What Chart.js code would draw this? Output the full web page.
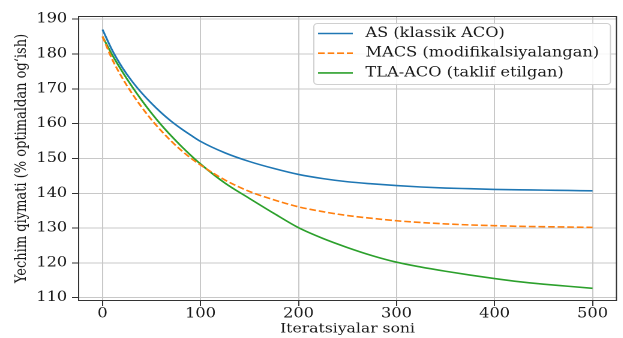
<!DOCTYPE html>
<html>
<head>
<meta charset="utf-8">
<script src="https://cdn.jsdelivr.net/npm/chart.js@4/dist/chart.umd.min.js"></script>
<style>
  html, body { margin: 0; padding: 0; background: #fff; }
  #outer { width: 623px; height: 338px; overflow: hidden; position: relative; }
  /* the reference figure is stretched sideways, so the chart is drawn narrower and widened */
  #wrap { width: 519.2px; height: 338px; position: absolute; left: 0; top: 0;
          transform: scaleX(1.2); transform-origin: 0 0; }
</style>
</head>
<body>
<div id="outer"><div id="wrap"><canvas id="chart"></canvas></div></div>
<script>
// iterations (x) and solution values (% of optimum)
const iterations = [0, 10, 20, 30, 40, 50, 60, 70, 80, 90, 100, 125, 150, 175, 200, 225, 250, 275, 300, 325, 350, 375, 400, 425, 450, 475, 500];
const asValues = [187.0, 181.0, 176.2, 172.2, 168.8, 165.8, 163.1, 160.7, 158.6, 156.7, 154.9, 151.6, 149.1, 147.1, 145.4, 144.2, 143.3, 142.7, 142.2, 141.8, 141.5, 141.3, 141.1, 141.0, 140.9, 140.8, 140.7];
const macsValues = [185.0, 178.4, 173.2, 168.7, 164.7, 161.1, 157.9, 155.0, 152.4, 150.1, 148.1, 143.8, 140.5, 138.1, 136.1, 134.7, 133.6, 132.8, 132.1, 131.6, 131.2, 130.9, 130.7, 130.5, 130.4, 130.3, 130.2];
const tlaValues = [185.0, 179.7, 175.0, 170.7, 166.7, 163.0, 159.6, 156.5, 153.6, 150.9, 148.4, 142.9, 138.5, 134.2, 130.1, 127.0, 124.4, 122.1, 120.2, 118.8, 117.6, 116.5, 115.5, 114.6, 113.9, 113.3, 112.7];

const seriesLabels = ['AS (klassik ACO)', 'MACS (modifikalsiyalangan)', 'TLA-ACO (taklif etilgan)'];
const xTicks = [0, 100, 200, 300, 400, 500];
const yTicks = [110, 120, 130, 140, 150, 160, 170, 180, 190];

const FONT = 'DejaVu Serif';
const INK = '#1a1a1a';

function toPoints(vals) {
  return iterations.map((x, i) => ({x: x, y: vals[i]}));
}

// full box round the plot, like matplotlib spines
const framePlugin = {
  id: 'frame',
  afterDatasetsDraw(chart) {
    const a = chart.chartArea;
    const ctx = chart.ctx;
    ctx.save();
    ctx.strokeStyle = '#333333';
    ctx.lineWidth = 1;
    ctx.strokeRect(a.left + 0.5, a.top + 0.5, a.right - a.left - 1, a.bottom - a.top - 1);
    ctx.restore();
  },
};

// legend box in the upper right corner of the plot
const legendPlugin = {
  id: 'boxLegend',
  afterDatasetsDraw(chart) {
    const ctx = chart.ctx;
    const a = chart.chartArea;
    const x0 = 261, y0 = 23, w = a.right - 6 - x0, h = 61;
    ctx.save();
    ctx.fillStyle = 'rgba(255,255,255,0.85)';
    ctx.strokeStyle = '#d0d0d0';
    ctx.lineWidth = 1;
    ctx.beginPath();
    ctx.roundRect(x0 + 0.5, y0 + 0.5, w, h, 3);
    ctx.fill();
    ctx.stroke();
    ctx.font = '13.5px "' + FONT + '"';
    ctx.textBaseline = 'middle';
    chart.data.datasets.forEach((ds, i) => {
      const yy = y0 + 10.5 + i * 19.7;
      ctx.strokeStyle = ds.borderColor;
      ctx.lineWidth = 1.6;
      ctx.setLineDash(ds.borderDash || []);
      ctx.beginPath();
      ctx.moveTo(265, yy);
      ctx.lineTo(294, yy);
      ctx.stroke();
      ctx.setLineDash([]);
      ctx.fillStyle = INK;
      ctx.fillText(ds.label, 304.5, yy);
    });
    ctx.restore();
  },
};

new Chart(document.getElementById('chart'), {
  type: 'line',
  data: {
    datasets: [{
      label: seriesLabels[0],
      data: toPoints(asValues),
      borderColor: '#1f77b4',
      borderWidth: 1.6,
    }, {
      label: seriesLabels[1],
      data: toPoints(macsValues),
      borderColor: '#ff7f0e',
      borderWidth: 1.6,
      borderDash: [5.6, 2.4],
    }, {
      label: seriesLabels[2],
      data: toPoints(tlaValues),
      borderColor: '#2ca02c',
      borderWidth: 1.6,
    }],
  },
  options: {
    responsive: true,
    maintainAspectRatio: false,
    animation: false,
    devicePixelRatio: 2,
    layout: {padding: {top: 16, right: 5, left: 0, bottom: 0}},
    elements: {
      point: {radius: 0},
      line: {cubicInterpolationMode: 'monotone', fill: false},
    },
    plugins: {
      legend: {display: false},
      tooltip: {enabled: false},
    },
    scales: {
      x: {
        type: 'linear',
        min: -25,
        max: 525,
        afterBuildTicks: (scale) => {
          scale.ticks = xTicks.map((v) => ({value: v}));
        },
        afterFit: (scale) => {
          scale.height = 37;
        },
        grid: {color: '#c8c8c8', lineWidth: 1, tickLength: 5, tickColor: '#333333'},
        border: {display: false},
        ticks: {
          color: INK,
          font: {family: FONT, size: 13.5},
          padding: 0,
          maxRotation: 0,
        },
        title: {
          display: true,
          text: 'Iteratsiyalar soni',
          color: INK,
          font: {family: FONT, size: 13},
          padding: {top: 0, bottom: 1},
        },
      },
      y: {
        type: 'linear',
        min: 109.06,
        max: 190.9,
        afterBuildTicks: (scale) => {
          scale.ticks = yTicks.map((v) => ({value: v}));
        },
        afterFit: (scale) => {
          scale.width = 65;
        },
        grid: {color: '#c8c8c8', lineWidth: 1, tickLength: 5, tickColor: '#333333'},
        border: {display: false},
        ticks: {
          color: INK,
          font: {family: FONT, size: 13.5},
          padding: 4,
        },
        title: {
          display: true,
          text: 'Yechim qiymati (% optimaldan og‘ish)',
          color: INK,
          font: {family: FONT, size: 13},
          padding: {top: 10.5, bottom: 0},
        },
      },
    },
  },
  plugins: [framePlugin, legendPlugin],
});
</script>
</body>
</html>
